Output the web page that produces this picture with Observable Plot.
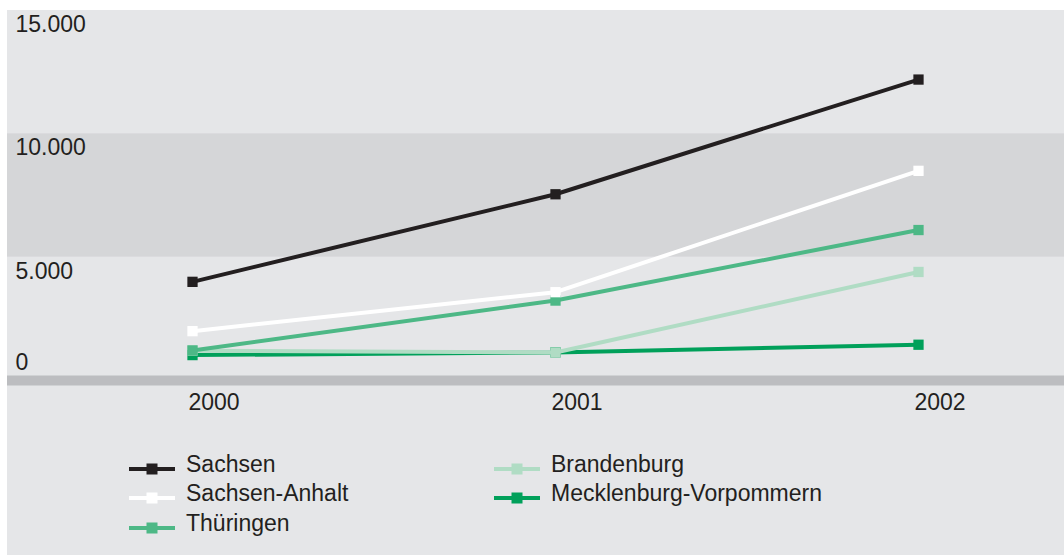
<!DOCTYPE html>
<html lang="de">
<head>
<meta charset="utf-8">
<script src="https://cdn.jsdelivr.net/npm/d3@7"></script>
<script src="https://cdn.jsdelivr.net/npm/@observablehq/plot@0.6"></script>
<style>
  html, body { margin: 0; padding: 0; background: #ffffff; }
  body { width: 1064px; height: 556px; position: relative; overflow: hidden;
         font-family: "Liberation Sans", Arial, Helvetica, sans-serif; color: #231f20; }
  #panel { position: absolute; left: 7px; top: 10px; width: 1057px; height: 545px; background: #e5e6e8; }
  #chart { position: absolute; left: 0; top: 0; }
  .item { position: absolute; height: 23px; font-size: 23px; line-height: 23px; white-space: nowrap; }
  .item svg { position: absolute; left: 0; top: 10px; }
  .item span { position: absolute; left: 57px; top: 0; }
</style>
</head>
<body>
<div id="panel">
  <div id="chart"></div>
  <div id="legend"></div>
</div>
<script>
// Jahre und Werte je Bundesland
const years = [2000, 2001, 2002];
const states = ["Sachsen", "Sachsen-Anhalt", "Thüringen", "Brandenburg", "Mecklenburg-Vorpommern"];
const sachsen = [4000, 7550, 12200];
const sachsenAnhalt = [2000, 3580, 8500];
const thueringen = [1220, 3240, 6100];
const brandenburg = [1210, 1135, 4400];
const mecklenburgVorpommern = [1030, 1140, 1450];
const stateColors = ["#231f20", "#ffffff", "#4db886", "#b0dcc4", "#00a05a"];
const yTicks = [0, 5000, 10000, 15000];

const seriesValues = [sachsen, sachsenAnhalt, thueringen, brandenburg, mecklenburgVorpommern];

// long-format rows: one per state and year
const rows = states.flatMap((state, i) =>
  years.map((year, j) => ({state, year, value: seriesValues[i][j], color: stateColors[i]}))
);

// German number format: 15.000
const de = d3.formatLocale({decimal: ",", thousands: ".", grouping: [3], currency: ["", " €"]});
const fmt = de.format(",");

// later states are drawn first so Sachsen ends up on top
const seriesMarks = states.slice().reverse().flatMap((state) => {
  const data = rows.filter((d) => d.state === state);
  const color = data[0].color;
  return [
    Plot.line(data, {x: "year", y: "value", stroke: color, strokeWidth: 4, strokeLinejoin: "miter", strokeLinecap: "butt"}),
    Plot.dot(data, {x: "year", y: "value", symbol: "square", r: 5.8, fill: color, stroke: "none"})
  ];
});

const chart = Plot.plot({
  width: 1057,
  height: 420,
  marginTop: 0,
  marginBottom: 50,
  marginLeft: 0,
  marginRight: 0,
  style: {
    background: "transparent",
    color: "#231f20",
    fontFamily: "'Liberation Sans', Arial, Helvetica, sans-serif",
    fontSize: "23px",
    overflow: "visible"
  },
  x: {domain: [2000, 2002], insetLeft: 185, insetRight: 146, axis: null},
  y: {domain: [0, 15000], axis: null},
  marks: [
    // shaded band between 5.000 and 10.000
    Plot.rect([null], {y1: () => 5000, y2: () => 10000, fill: "#d5d6d8"}),
    // baseline bar
    Plot.ruleY([0], {stroke: "#bcbdc0", strokeWidth: 10}),
    // value labels
    Plot.text(yTicks.filter((d) => d > 0), {
      y: (d) => d, text: (d) => fmt(d), frameAnchor: "left", dx: 8,
      textAnchor: "start", lineAnchor: "top", dy: 5, fill: "#231f20"
    }),
    Plot.text(yTicks.filter((d) => d === 0), {
      y: (d) => d, text: (d) => fmt(d), frameAnchor: "left", dx: 8,
      textAnchor: "start", lineAnchor: "bottom", dy: -11, fill: "#231f20"
    }),
    // year labels
    Plot.axisX(years, {
      anchor: "bottom", label: null, tickSize: 0, tickPadding: 13, textAnchor: "start", dx: -4,
      tickFormat: (d) => String(d), fontSize: 23, fill: "#231f20"
    }),
    ...seriesMarks
  ]
});
document.getElementById("chart").appendChild(chart);

// legend: two columns
const legendPos = [
  [122, 442.5], [122, 472], [122, 501.5],
  [487, 442.5], [487, 472]
];
const legend = document.getElementById("legend");
states.forEach((state, i) => {
  const [left, top] = legendPos[i];
  const item = document.createElement("div");
  item.className = "item";
  item.style.left = left + "px";
  item.style.top = top + "px";
  const c = stateColors[i];
  item.innerHTML =
    `<svg width="46" height="12" viewBox="0 0 46 12">` +
    `<rect x="0" y="4" width="46" height="4" fill="${c}"/>` +
    `<rect x="17.5" y="0.5" width="11" height="11" fill="${c}"/>` +
    `</svg><span>${state}</span>`;
  legend.appendChild(item);
});
</script>
</body>
</html>
